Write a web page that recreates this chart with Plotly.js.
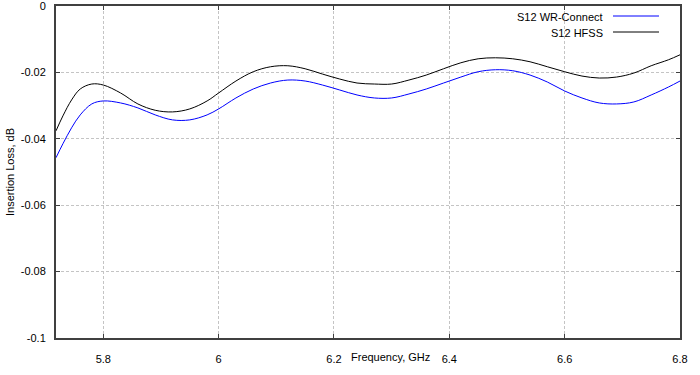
<!DOCTYPE html>
<html><head><meta charset="utf-8">
<script src="https://cdn.plot.ly/plotly-3.0.1.min.js"></script>
<style>html,body{margin:0;padding:0;background:#fff}#chart{width:700px;height:375px}</style>
</head><body><div id="chart"></div>
<script>
const freq = [5.718,5.73,5.745,5.76,5.78,5.80,5.83,5.86,5.89,5.92,5.95,5.98,6.00,6.03,6.06,6.09,6.12,6.15,6.18,6.21,6.24,6.27,6.30,6.33,6.36,6.39,6.42,6.45,6.48,6.51,6.54,6.57,6.60,6.63,6.66,6.69,6.72,6.75,6.78,6.80];
const s12WR = [-0.0457,-0.0415,-0.0367,-0.0328,-0.0295,-0.0286,-0.0292,-0.0307,-0.0328,-0.0343,-0.0343,-0.0328,-0.0310,-0.0277,-0.0250,-0.0232,-0.0223,-0.0226,-0.0238,-0.0253,-0.0268,-0.0277,-0.0277,-0.0265,-0.0250,-0.0232,-0.0214,-0.0198,-0.0192,-0.0195,-0.0208,-0.0229,-0.0256,-0.0277,-0.0292,-0.0295,-0.0289,-0.0268,-0.0244,-0.0226];
const s12HFSS = [-0.0376,-0.0331,-0.0283,-0.0250,-0.0235,-0.0238,-0.0262,-0.0295,-0.0314,-0.0319,-0.0310,-0.0286,-0.0262,-0.0226,-0.0198,-0.0183,-0.0180,-0.0189,-0.0205,-0.0220,-0.0232,-0.0235,-0.0235,-0.0223,-0.0208,-0.0189,-0.0171,-0.0159,-0.0156,-0.0159,-0.0168,-0.0183,-0.0198,-0.0211,-0.0217,-0.0214,-0.0202,-0.0180,-0.0162,-0.0147];
const seriesNames = ["S12 WR-Connect","S12 HFSS"];
const xTicks = [5.8,6.0,6.2,6.4,6.6,6.8];
const xTickText = ["5.8","6","6.2","6.4","6.6","6.8"];
const yTicks = [0,-0.02,-0.04,-0.06,-0.08,-0.1];
const yTickText = ["0","-0.02","-0.04","-0.06","-0.08","-0.1"];
const colors = ["#0000ff","#000000"];

const traces = [
  {x: freq, y: s12WR, name: seriesNames[0], mode: 'lines', line: {color: colors[0], width: 1, shape: 'spline'}},
  {x: freq, y: s12HFSS, name: seriesNames[1], mode: 'lines', line: {color: colors[1], width: 1, shape: 'spline'}}
];
const font = {family: 'Liberation Sans, Arial, sans-serif', size: 11, color: '#000'};
const layout = {
  width: 700, height: 375,
  margin: {l: 56, r: 20, t: 6, b: 37},
  paper_bgcolor: '#fff', plot_bgcolor: '#fff',
  font: font,
  showlegend: false,
  xaxis: {
    range: [5.718, 6.8], tickvals: xTicks, ticktext: xTickText,
    showgrid: true, gridcolor: '#c4c4c4', griddash: '3px,2px', gridwidth: 1,
    zeroline: false, showline: true, linecolor: '#404040', linewidth: 2, mirror: 'ticks',
    ticks: 'inside', ticklen: 4, tickcolor: '#404040', ticklabelstandoff: 10, ticklabeloverflow: 'allow'
  },
  yaxis: {
    range: [-0.1, 0], tickvals: yTicks, ticktext: yTickText,
    showgrid: true, gridcolor: '#c4c4c4', griddash: '3px,2px', gridwidth: 1,
    zeroline: false, showline: true, linecolor: '#404040', linewidth: 2, mirror: 'ticks',
    ticks: 'inside', ticklen: 4, tickcolor: '#404040', ticklabelstandoff: 6, ticklabeloverflow: 'allow'
  },
  annotations: [
    {text: 'Frequency, GHz', xref: 'paper', yref: 'paper', x: (390-56)/624, y: -19/332, xanchor: 'center', yanchor: 'middle', showarrow: false, font: font},
    {text: 'Insertion Loss, dB', xref: 'paper', yref: 'paper', x: (10-56)/624, y: (338-172)/332, textangle: -90, xanchor: 'center', yanchor: 'middle', showarrow: false, font: font},
    {text: seriesNames[0], xref: 'paper', yref: 'paper', x: (605-56)/624, y: (338-17)/332, xanchor: 'right', yanchor: 'middle', showarrow: false, font: font},
    {text: seriesNames[1], xref: 'paper', yref: 'paper', x: (605-56)/624, y: (338-33)/332, xanchor: 'right', yanchor: 'middle', showarrow: false, font: font}
  ],
  shapes: [
    {type: 'line', xref: 'paper', yref: 'paper', x0: (613-56)/624, x1: (659-56)/624, y0: (338-16)/332, y1: (338-16)/332, line: {color: colors[0], width: 1}},
    {type: 'line', xref: 'paper', yref: 'paper', x0: (613-56)/624, x1: (659-56)/624, y0: (338-32)/332, y1: (338-32)/332, line: {color: colors[1], width: 1}}
  ]
};
Plotly.newPlot('chart', traces, layout, {displayModeBar: false, staticPlot: true});
</script></body></html>
